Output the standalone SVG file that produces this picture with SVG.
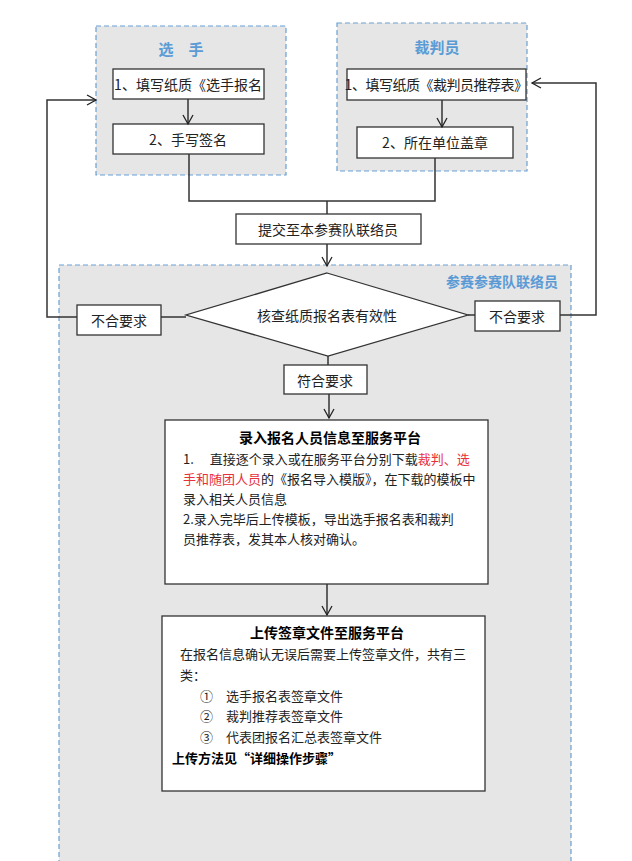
<svg xmlns="http://www.w3.org/2000/svg" width="632" height="861" viewBox="0 0 632 861">
<defs>
<marker id="a" markerWidth="12" markerHeight="12" refX="10" refY="6" orient="auto" markerUnits="userSpaceOnUse"><path d="M1,1 L10,6 L1,11" fill="none" stroke="#222" stroke-width="1.3"/></marker>
</defs>
<style>
.grp{fill:#e6e6e6;stroke:#6a9fd4;stroke-width:1.2;stroke-dasharray:5,3}
.box{fill:#fff;stroke:#333;stroke-width:1.3}
.t{font-family:"Noto Sans CJK SC",sans-serif;font-size:14px;fill:#222;text-anchor:middle;dominant-baseline:central}
.l{font-family:"Noto Sans CJK SC",sans-serif;font-size:13px;fill:#222;dominant-baseline:central}
.h{font-family:"Noto Sans CJK SC",sans-serif;font-weight:bold;fill:#5b9bd5;dominant-baseline:central}
.b{font-weight:bold;fill:#000}
.c{fill:none;stroke:#333;stroke-width:1.5}
</style>
<rect width="632" height="861" fill="#fff"/>
<rect class="grp" x="59" y="265" width="512" height="600"/>
<text class="h" x="558" y="281" font-size="14" text-anchor="end">参赛参赛队联络员</text>
<g id="player">
<rect class="grp" x="96" y="26" width="190" height="149"/>
<text class="h" x="181" y="48" font-size="15" text-anchor="middle">选　手</text>
</g>
<g id="p1"><rect class="box" x="113" y="69" width="151" height="30"/><text class="t" x="188" y="84" font-size="13">1、填写纸质《选手报名</text></g>
<g id="p2"><rect class="box" x="113" y="124" width="151" height="30"/><text class="t" x="188" y="139">2、手写签名</text></g>
<g id="referee">
<rect class="grp" x="337" y="23" width="190" height="148"/>
<text class="h" x="437" y="46" font-size="15" text-anchor="middle">裁判员</text>
</g>
<g id="r1"><rect class="box" x="347" y="69" width="179" height="31"/><text class="t" x="436" y="84" font-size="11.5" letter-spacing="-0.5">1、填写纸质《裁判员推荐表》</text></g>
<g id="r2"><rect class="box" x="357" y="127" width="156" height="31"/><text class="t" x="435" y="142">2、所在单位盖章</text></g>
<g id="submit"><rect class="box" x="236" y="214" width="185" height="30"/><text class="t" x="328" y="229">提交至本参赛队联络员</text></g>
<g id="check"><polygon class="box" points="327,273 468,315 328,356 186,315"/><text class="t" x="327" y="315">核查纸质报名表有效性</text></g>
<g id="failL"><rect class="box" x="77" y="305" width="84" height="30"/><text class="t" x="119" y="320">不合要求</text></g>
<g id="failR"><rect class="box" x="475" y="301" width="85" height="30"/><text class="t" x="517" y="316">不合要求</text></g>
<g id="pass"><rect class="box" x="284" y="365" width="83" height="29"/><text class="t" x="325" y="380">符合要求</text></g>
<g id="enter">
<rect class="box" x="165" y="420" width="323" height="164"/>
<text class="t b" x="330" y="437">录入报名人员信息至服务平台</text>
<text class="l" x="183" y="458">1.　 直接逐个录入或在服务平台分别下载<tspan fill="#e8303a">裁判、选</tspan></text>
<text class="l" x="183" y="478"><tspan fill="#e8303a">手和随团人员</tspan>的《报名导入模版》，在下载的模板中</text>
<text class="l" x="183" y="498">录入相关人员信息</text>
<text class="l" x="183" y="518">2.录入完毕后上传模板，导出选手报名表和裁判</text>
<text class="l" x="183" y="538">员推荐表，发其本人核对确认。</text>
</g>
<g id="upload">
<rect class="box" x="162" y="616" width="323" height="175"/>
<text class="t b" x="327" y="632">上传签章文件至服务平台</text>
<text class="l" x="180" y="653">在报名信息确认无误后需要上传签章文件，共有三</text>
<text class="l" x="180" y="674">类：</text>
<text class="l" x="200" y="695">①　选手报名表签章文件</text>
<text class="l" x="200" y="715">②　裁判推荐表签章文件</text>
<text class="l" x="200" y="736">③　代表团报名汇总表签章文件</text>
<text class="l b" x="172" y="757">上传方法见“详细操作步骤”</text>
</g>
<g id="connectors">
<line class="c" x1="188" y1="99" x2="188" y2="124" marker-end="url(#a)"/>
<line class="c" x1="442" y1="100" x2="442" y2="127" marker-end="url(#a)"/>
<polyline class="c" points="189,154 189,201 435,201 435,158"/>
<polyline class="c" points="327,201 327,214"/>
<line class="c" x1="327" y1="244" x2="327" y2="266" marker-end="url(#a)"/>
<line class="c" x1="161" y1="317" x2="186" y2="317"/>
<line class="c" x1="468" y1="315" x2="475" y2="315"/>
<polyline class="c" points="77,317 47,317 47,100 96,100" marker-end="url(#a)"/>
<polyline class="c" points="560,315 596,315 596,83 532,83" marker-end="url(#a)"/>
<line class="c" x1="328" y1="356" x2="328" y2="365"/>
<line class="c" x1="329" y1="394" x2="329" y2="418" marker-end="url(#a)"/>
<line class="c" x1="327" y1="584" x2="327" y2="615" marker-end="url(#a)"/>
</g>
</svg>
